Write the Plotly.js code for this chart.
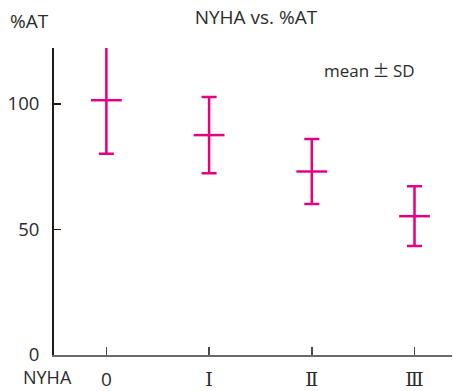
<!DOCTYPE html>
<html>
<head>
<meta charset="utf-8">
<script src="https://cdn.plot.ly/plotly-3.0.1.min.js"></script>
<style>html,body{margin:0;padding:0;background:#fff;}#chart{width:453px;height:391px;}</style>
</head>
<body>
<div id="chart"></div>
<script>
const categories = ["0", "Ⅰ", "Ⅱ", "Ⅲ"];
const meanValues = [101.5, 87.6, 73.1, 55.3];
const sdValues = [21.3, 15.2, 12.9, 11.9];
const yTickValues = [0, 50, 100];
const yTickLabels = ["0", "50", "100"];

const magenta = "#e4007f";
const fontFam = "'Open Sans', 'Noto Sans CJK JP', sans-serif";
const serifFam = "'DejaVu Serif', 'Liberation Serif', serif";
const textColor = "#2b2b2b";

const tickText = categories.map((c, i) =>
  i === 0 ? c : "<span style=\"font-family:" + serifFam.replace(/"/g, "") + "\">" + c + "</span>");

const trace = {
  type: "scatter",
  mode: "markers",
  x: categories.map((c, i) => i),
  y: meanValues,
  marker: {symbol: "line-ew", size: 22, color: magenta, line: {width: 2.5, color: magenta}},
  error_y: {type: "data", array: sdValues, visible: true, color: magenta, thickness: 2.5, width: 7.5},
  hoverinfo: "skip"
};

const layout = {
  width: 453, height: 391,
  margin: {l: 54, r: 1, t: 48, b: 36},
  paper_bgcolor: "#fff", plot_bgcolor: "#fff",
  showlegend: false,
  font: {family: fontFam, color: textColor, size: 19},
  title: {text: "NYHA vs. %AT", x: 0.565, xanchor: "center", xref: "container", y: 0.955, yanchor: "middle", yref: "container", font: {family: fontFam, size: 19, color: textColor}},
  xaxis: {
    range: [-0.51, 3.365], tickmode: "array",
    tickvals: categories.map((c, i) => i), ticktext: tickText,
    showgrid: false, zeroline: false,
    showline: true, linecolor: "#6a6a6a", linewidth: 2,
    ticks: "inside", ticklen: 8, tickwidth: 1.5, tickcolor: "#4a4a4a",
    ticklabelstandoff: 6,
    tickfont: {family: fontFam, size: 19, color: textColor},
    fixedrange: true
  },
  yaxis: {
    range: [0, 122.3], tickmode: "array",
    tickvals: yTickValues, ticktext: yTickLabels,
    showgrid: false, zeroline: false,
    showline: true, linecolor: "#231815", linewidth: 2,
    ticks: "inside", ticklen: 7, tickwidth: 1.5, tickcolor: "#231815",
    ticklabelstandoff: 9,
    tickfont: {family: fontFam, size: 18.5, color: textColor},
    fixedrange: true
  },
  annotations: [
    {text: "%AT", xref: "paper", yref: "paper", x: -0.115, y: 1.088, xanchor: "left", yanchor: "middle", showarrow: false, font: {family: fontFam, size: 19, color: textColor}},
    {text: "NYHA", xref: "paper", yref: "paper", x: -0.08, y: -0.073, xanchor: "left", yanchor: "middle", showarrow: false, borderpad: 0, font: {family: fontFam, size: 18, color: textColor}},
    {text: "mean<span style=\"font-family:'Noto Sans CJK JP'\">\u2009±\u2009</span>SD", xref: "paper", yref: "paper", x: 0.674, y: 0.93, xanchor: "left", yanchor: "middle", showarrow: false, font: {family: fontFam, size: 17, color: textColor}}
  ]
};

Plotly.newPlot("chart", [trace], layout, {displayModeBar: false, staticPlot: true});
</script>
</body>
</html>
